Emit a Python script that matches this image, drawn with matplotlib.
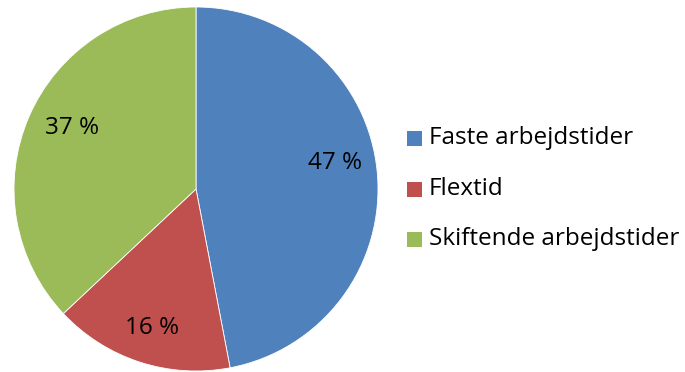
import numpy as np
import matplotlib
matplotlib.use("Agg")
import matplotlib.pyplot as plt
from matplotlib.patches import Rectangle

categories = ["Faste arbejdstider", "Flextid", "Skiftende arbejdstider"]
shares = [47, 16, 37]
colors = ["#4F81BD", "#C0504D", "#9BBB59"]

plt.rcParams["font.family"] = ["Open Sans", "DejaVu Sans"]

W, H = 685, 372
fig = plt.figure(figsize=(W / 100, H / 100), dpi=100)
fig.patch.set_facecolor("white")

# pie axes: centre (196, 189) px, radius 182 px
cx, cy, r = 196, 189, 182
ax = fig.add_axes([(cx - r) / W, (H - cy - r) / H, 2 * r / W, 2 * r / H])
wedges, _ = ax.pie(shares, colors=colors, startangle=90, counterclock=False,
                   radius=1.0, wedgeprops=dict(edgecolor="white", linewidth=0.6))
ax.set_xlim(-1, 1)
ax.set_ylim(-1, 1)
ax.set_aspect("equal")
ax.axis("off")

# value labels, placed along each wedge's direction
label_pos = [(10.6, 0.78), (-107.6, 0.80), (153.8, 0.76)]
for val, (ang, dist) in zip(shares, label_pos):
    a = np.deg2rad(ang)
    ax.text(dist * np.cos(a), dist * np.sin(a), f"{val} %", ha="center", va="center",
            fontsize=17.5, color="black")

# legend
rows_y = [138, 189, 239]
for name, col, yy in zip(categories, colors, rows_y):
    fig.patches.append(Rectangle((407 / W, (H - yy - 8) / H), 15 / W, 15 / H,
                                 transform=fig.transFigure, facecolor=col,
                                 edgecolor="none"))
    fig.text(429 / W, (H - yy) / H, name, ha="left", va="center",
             fontsize=17.5, color="black")

fig.savefig("out.png", dpi=100)
